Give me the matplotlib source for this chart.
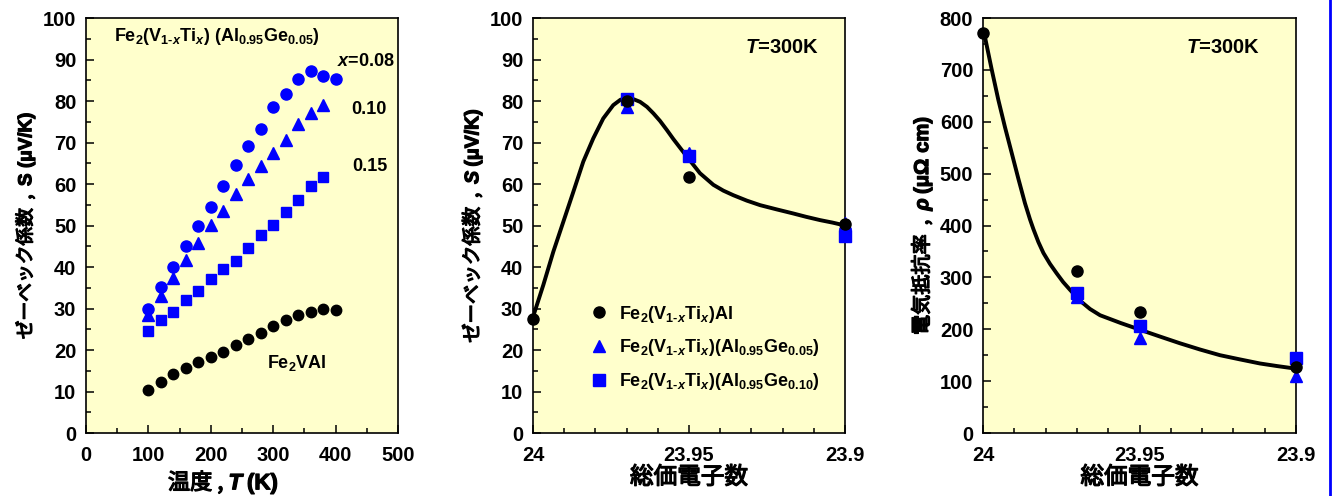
import matplotlib
matplotlib.use("Agg")
import matplotlib.pyplot as plt
import matplotlib.patheffects as pe
from matplotlib.ticker import MultipleLocator, FixedLocator, FixedFormatter
from matplotlib.lines import Line2D

plt.rcParams["font.family"] = ["Liberation Sans", "Noto Sans CJK JP"]
plt.rcParams["font.weight"] = "bold"
plt.rcParams["mathtext.fontset"] = "custom"
plt.rcParams["mathtext.rm"] = "Liberation Sans:bold"
plt.rcParams["mathtext.it"] = "Liberation Sans:italic:bold"
plt.rcParams["mathtext.bf"] = "Liberation Sans:bold"
plt.rcParams["mathtext.sf"] = "Liberation Sans"

# ---- panel 1: Seebeck vs temperature ----
temp = [100, 120, 140, 160, 180, 200, 220, 240, 260, 280, 300, 320, 340, 360, 380, 400]
s_x008 = [30.0, 35.3, 40.1, 45.1, 49.8, 54.4, 59.4, 64.6, 69.1, 73.3, 78.6, 81.7, 85.4, 87.2, 86.1, 85.2]
temp_x010 = temp[:15]
s_x010 = [28.4, 33.1, 37.3, 41.7, 45.8, 50.2, 53.6, 57.6, 61.2, 64.4, 67.4, 70.6, 74.4, 77.2, 79.0]
temp_x015 = temp[:15]
s_x015 = [24.6, 27.2, 29.2, 32.0, 34.3, 37.1, 39.5, 41.4, 44.7, 47.8, 50.2, 53.2, 56.2, 59.4, 61.8]
s_fe2val = [10.3, 12.3, 14.1, 15.7, 17.1, 18.3, 19.5, 21.2, 22.7, 24.0, 25.9, 27.3, 28.4, 29.2, 29.9, 29.6]

# ---- panels 2/3: vs total valence electrons ----
nval = [24.0, 23.97, 23.95, 23.90]
nval_ge = [23.97, 23.95, 23.90]
s_al = [27.4, 80.0, 61.8, 50.4]
s_ge005 = [78.6, 67.4, 50.5]
s_ge010 = [80.6, 66.8, 47.4]
rho_al = [771, 312, 233, 127]
rho_ge005 = [263, 183, 110]
rho_ge010 = [270, 206, 145]

# guide curves
s_curve_x = [24.0, 23.9967, 23.9935, 23.9903, 23.9871, 23.9839, 23.9807, 23.9775, 23.9743,
             23.972, 23.970, 23.968, 23.9657, 23.9635, 23.9614, 23.9593, 23.9571, 23.955,
             23.9507, 23.9465, 23.9422, 23.939, 23.9358, 23.9315, 23.9272, 23.922, 23.9166,
             23.9125, 23.908, 23.904, 23.90]
s_curve_y = [28.0, 35.7, 43.7, 50.9, 58.1, 65.4, 71.0, 75.8, 79.0,
             80.3, 80.7, 80.5, 79.8, 78.6, 77.0, 75.2, 73.0, 70.8,
             66.6, 62.6, 59.8, 58.4, 57.3, 56.0, 54.9, 53.9, 52.9,
             52.1, 51.3, 50.7, 50.0]
rho_curve_x = [24.0, 23.9994, 23.9972, 23.9951, 23.993, 23.9908, 23.9887, 23.9866, 23.985,
               23.9839, 23.9823, 23.9807, 23.9786, 23.9765, 23.9744, 23.9722, 23.969, 23.9658,
               23.9626, 23.956, 23.9498, 23.9435, 23.9371, 23.9307, 23.9243, 23.918, 23.9115,
               23.906, 23.90]
rho_curve_y = [771, 764, 700, 642, 590, 539, 490, 443, 412,
               393, 368, 347, 326, 308, 291, 276, 255, 239,
               227, 212, 199, 186, 173, 161, 150, 142, 134,
               129, 124]

nval_ticks = [24.0, 23.95, 23.9]
nval_ticklabels = ["24", "23.95", "23.9"]

BG = "#FFFFCC"
BLUE = "#0000FF"
TICK_FS = 14.5
TEXT_FS = 13
BOLDEN = [pe.withStroke(linewidth=0.9, foreground="black")]

fig = plt.figure(figsize=(13.32, 4.96), dpi=100)
ax1 = fig.add_axes([0.0646, 0.127, 0.2342, 0.8367])
ax2 = fig.add_axes([0.4002, 0.127, 0.2342, 0.8367])
ax3 = fig.add_axes([0.738, 0.127, 0.235, 0.8367])


def style(ax):
    ax.set_facecolor(BG)
    for sp in ax.spines.values():
        sp.set_linewidth(1.2)
    ax.tick_params(which="both", direction="in", top=False, right=False,
                   labelsize=TICK_FS, width=1.1)
    ax.tick_params(which="major", length=6, pad=7)
    ax.tick_params(which="minor", length=3.5)
    ax.tick_params(axis="x", which="major", pad=9)


def jp_label(ax, axis, text, size, pad):
    kw = dict(fontsize=size, family="Noto Sans CJK JP", labelpad=pad)
    lab = ax.set_xlabel(text, **kw) if axis == "x" else ax.set_ylabel(text, **kw)
    lab.set_path_effects(BOLDEN)
    return lab


# panel 1
style(ax1)
ax1.plot(temp, s_x008, "o", color=BLUE, ms=8, zorder=3)
ax1.plot(temp_x010, s_x010, "^", color=BLUE, ms=8.5, zorder=3)
ax1.plot(temp_x015, s_x015, "s", color=BLUE, ms=7.5, zorder=3)
ax1.plot(temp, s_fe2val, "o", color="black", ms=7.5, zorder=3)
ax1.set_xlim(0, 500)
ax1.set_ylim(0, 100)
ax1.xaxis.set_major_locator(MultipleLocator(100))
ax1.xaxis.set_minor_locator(MultipleLocator(50))
ax1.yaxis.set_major_locator(MultipleLocator(10))
ax1.yaxis.set_minor_locator(MultipleLocator(5))
jp_label(ax1, "x", r"温度 , $\mathit{T}$ $\mathsf{(K)}$", 16, 2)
ax1.xaxis.set_label_coords(0.44, -0.085)
jp_label(ax1, "y", r"ゼーベック係数  ,  $\mathsf{S\ (μV/K)}$", 13.5, 4)
ax1.text(0.09, 0.955, r"Fe$_2$(V$_{1\text{-}x}$Ti$_x$) (Al$_{0.95}$Ge$_{0.05}$)",
         transform=ax1.transAxes, fontsize=TEXT_FS, va="center", ha="left")
ax1.text(0.99, 0.895, r"$x$=0.08", transform=ax1.transAxes, fontsize=TEXT_FS,
         va="center", ha="right")
ax1.text(0.965, 0.78, "0.10", transform=ax1.transAxes, fontsize=TEXT_FS,
         va="center", ha="right")
ax1.text(0.965, 0.643, "0.15", transform=ax1.transAxes, fontsize=TEXT_FS,
         va="center", ha="right")
ax1.text(0.58, 0.168, r"Fe$_2$VAl", transform=ax1.transAxes, fontsize=TEXT_FS,
         va="center", ha="left")

# panel 2
style(ax2)
ax2.plot(s_curve_x, s_curve_y, "-", color="black", lw=2.8, zorder=2,
         solid_joinstyle="round")
h_ge005, = ax2.plot(nval_ge, s_ge005, "^", color=BLUE, ms=9, zorder=3, clip_on=False)
h_ge010, = ax2.plot(nval_ge, s_ge010, "s", color=BLUE, ms=8, zorder=3, clip_on=False)
h_al, = ax2.plot(nval, s_al, "o", color="black", ms=8, zorder=4, clip_on=False)
ax2.set_xlim(24.0, 23.9)
ax2.set_ylim(0, 100)
ax2.yaxis.set_major_locator(MultipleLocator(10))
ax2.yaxis.set_minor_locator(MultipleLocator(5))
jp_label(ax2, "y", r"ゼーベック係数  ,  $\mathit{S}$ $\mathsf{(μV/K)}$", 14, 4)
ax2.text(0.915, 0.93, r"$T$=300K", transform=ax2.transAxes, fontsize=14.5,
         va="center", ha="right")
ax2.legend([h_al, h_ge005, h_ge010],
           [r"Fe$_2$(V$_{1\text{-}x}$Ti$_x$)Al",
            r"Fe$_2$(V$_{1\text{-}x}$Ti$_x$)(Al$_{0.95}$Ge$_{0.05}$)",
            r"Fe$_2$(V$_{1\text{-}x}$Ti$_x$)(Al$_{0.95}$Ge$_{0.10}$)"],
           loc="center left", bbox_to_anchor=(0.155, 0.205), frameon=False,
           fontsize=TEXT_FS, handlelength=1.0, handletextpad=0.6,
           labelspacing=0.7, borderpad=0)

# panel 3
style(ax3)
ax3.plot(rho_curve_x, rho_curve_y, "-", color="black", lw=2.8, zorder=2,
         solid_joinstyle="round")
ax3.plot(nval_ge, rho_ge005, "^", color=BLUE, ms=9, zorder=3, clip_on=False)
ax3.plot(nval_ge, rho_ge010, "s", color=BLUE, ms=8, zorder=3, clip_on=False)
ax3.plot(nval, rho_al, "o", color="black", ms=8, zorder=4, clip_on=False)
ax3.set_xlim(24.0, 23.9)
ax3.set_ylim(0, 800)
ax3.yaxis.set_major_locator(MultipleLocator(100))
ax3.yaxis.set_minor_locator(MultipleLocator(50))
jp_label(ax3, "y", r"電気抵抗率  ,  $\mathit{ρ}$ $\mathsf{(μΩ\ cm)}$", 14.5, 4)
ax3.text(0.885, 0.93, r"$T$=300K", transform=ax3.transAxes, fontsize=14.5,
         va="center", ha="right")

for ax in (ax2, ax3):
    ax.xaxis.set_major_locator(FixedLocator(nval_ticks))
    ax.xaxis.set_major_formatter(FixedFormatter(nval_ticklabels))
    ax.xaxis.set_minor_locator(MultipleLocator(0.01))
    jp_label(ax, "x", "総価電子数", 17, 1)

# blue frame edge at the right
fig.add_artist(Line2D([0.9985, 0.9985], [0, 1], color=BLUE, lw=2,
                      transform=fig.transFigure))

fig.savefig("out.png", dpi=100)
